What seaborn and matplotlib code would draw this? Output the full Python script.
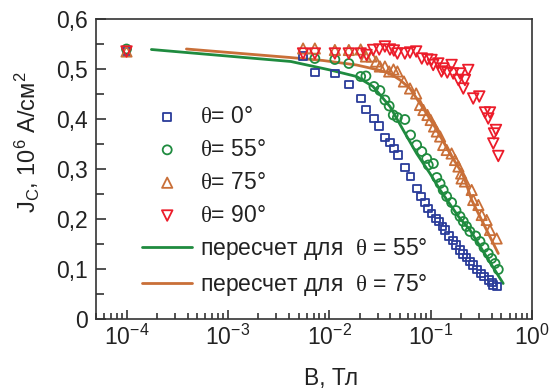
import numpy as np
import pandas as pd
import matplotlib
matplotlib.use("Agg")
import matplotlib.pyplot as plt
import seaborn as sns
from matplotlib.ticker import LogLocator, NullFormatter, FixedLocator, MultipleLocator

# ---------------- data ----------------
b0 = [1e-4, 0.00552, 0.00721, 0.01136, 0.0156, 0.0204, 0.0231, 0.0276, 0.0311, 0.0354, 0.0397,
      0.0434, 0.0472, 0.0557, 0.0634, 0.0728, 0.0802, 0.0879, 0.0948, 0.102, 0.113, 0.121,
      0.131, 0.138, 0.153, 0.165, 0.178, 0.195, 0.210, 0.226, 0.244, 0.263, 0.284, 0.311,
      0.338, 0.379, 0.400, 0.415, 0.455]
j0 = [0.535, 0.526, 0.493, 0.491, 0.469, 0.441, 0.419, 0.401, 0.386, 0.363, 0.353,
      0.341, 0.328, 0.303, 0.285, 0.261, 0.245, 0.233, 0.221, 0.211, 0.201, 0.195,
      0.185, 0.178, 0.166, 0.157, 0.148, 0.138, 0.130, 0.123, 0.115, 0.108, 0.099, 0.091,
      0.085, 0.078, 0.073, 0.068, 0.065]

b55 = [1e-4, 0.00721, 0.01136, 0.0156, 0.0204, 0.023, 0.0276, 0.0316, 0.0354, 0.039, 0.0428,
       0.047, 0.0557, 0.0634, 0.0728, 0.0818, 0.0915, 0.0948, 0.1064, 0.115, 0.124, 0.133,
       0.144, 0.161, 0.178, 0.195, 0.210, 0.226, 0.244, 0.278, 0.307, 0.336, 0.370, 0.400,
       0.432, 0.465]
j55 = [0.540, 0.521, 0.519, 0.511, 0.485, 0.486, 0.465, 0.457, 0.438, 0.426, 0.408,
       0.403, 0.399, 0.368, 0.348, 0.335, 0.321, 0.308, 0.311, 0.283, 0.271, 0.258,
       0.245, 0.233, 0.217, 0.205, 0.195, 0.185, 0.175, 0.166, 0.155, 0.143, 0.131, 0.121,
       0.111, 0.099]

b75 = [1e-4, 0.00552, 0.00721, 0.01136, 0.0156, 0.0204, 0.023, 0.0262, 0.029, 0.0316, 0.0354,
       0.039, 0.043, 0.047, 0.0545, 0.0626, 0.072, 0.0786, 0.0848, 0.093, 0.100, 0.108,
       0.115, 0.124, 0.133, 0.144, 0.161, 0.174, 0.188, 0.200, 0.202, 0.218, 0.254, 0.263,
       0.296, 0.319, 0.357, 0.385, 0.448]
j75 = [0.535, 0.541, 0.541, 0.538, 0.538, 0.539, 0.525, 0.525, 0.515, 0.505, 0.505,
       0.495, 0.499, 0.495, 0.475, 0.461, 0.451, 0.428, 0.418, 0.408, 0.398, 0.385,
       0.375, 0.365, 0.348, 0.338, 0.331, 0.318, 0.305, 0.291, 0.281, 0.275, 0.258, 0.238,
       0.228, 0.208, 0.198, 0.178, 0.161]

b90 = [1e-4, 0.00552, 0.00721, 0.01136, 0.0156, 0.0204, 0.0233, 0.0271, 0.0311, 0.0354, 0.0397,
       0.0434, 0.047, 0.0557, 0.0626, 0.072, 0.0818, 0.093, 0.102, 0.106, 0.119, 0.128,
       0.133, 0.146, 0.161, 0.167, 0.188, 0.195, 0.210, 0.218, 0.235, 0.263, 0.302, 0.344,
       0.385, 0.370, 0.441, 0.422, 0.415, 0.465]
j90 = [0.535, 0.531, 0.531, 0.531, 0.531, 0.531, 0.528, 0.538, 0.539, 0.545, 0.539,
       0.537, 0.531, 0.531, 0.533, 0.535, 0.521, 0.519, 0.518, 0.508, 0.511, 0.495,
       0.501, 0.493, 0.508, 0.491, 0.478, 0.491, 0.461, 0.478, 0.498, 0.441, 0.445, 0.413,
       0.413, 0.401, 0.378, 0.371, 0.351, 0.326]

fit55_b = [1.76e-4, 0.00418, 0.0102, 0.0186, 0.027, 0.0397, 0.0536, 0.0728, 0.0986, 0.124,
           0.188, 0.244, 0.52]
fit55_j = [0.539, 0.515, 0.498, 0.485, 0.465, 0.425, 0.378, 0.331, 0.291, 0.258,
           0.205, 0.178, 0.071]

fit75_b = [3.9e-4, 0.0041, 0.0087, 0.0186, 0.0293, 0.0397, 0.050, 0.0626, 0.0848, 0.115,
           0.155, 0.21, 0.254, 0.465]
fit75_j = [0.540, 0.523, 0.517, 0.508, 0.499, 0.491, 0.478, 0.461, 0.421, 0.378,
           0.331, 0.288, 0.238, 0.131]

labels = [r"$\mathsf{\theta}$= 0°", r"$\mathsf{\theta}$= 55°",
          r"$\mathsf{\theta}$= 75°", r"$\mathsf{\theta}$= 90°",
          r"пересчет для  $\mathsf{\theta}$ = 55°", r"пересчет для  $\mathsf{\theta}$ = 75°"]
ytick_vals = [0, 0.1, 0.2, 0.3, 0.4, 0.5, 0.6]
ytick_labels = ["0", "0,1", "0,2", "0,3", "0,4", "0,5", "0,6"]
xtick_vals = [1e-4, 1e-3, 1e-2, 1e-1, 1e0]
xtick_labels = [r"10$^{-4}$", r"10$^{-3}$", r"10$^{-2}$", r"10$^{-1}$", r"10$^{0}$"]

# ---------------- style ----------------
sns.set_style("ticks")
plt.rcParams["font.family"] = ["Liberation Sans", "DejaVu Sans"]
plt.rcParams["mathtext.fontset"] = "custom"
plt.rcParams["mathtext.rm"] = "Liberation Sans"
plt.rcParams["mathtext.it"] = "Liberation Sans:italic"
plt.rcParams["mathtext.sf"] = "Liberation Serif"

FS = 16.5
c_blue = "#2a3c9a"
c_green = "#1f8b3f"
c_orange = "#c96f38"
c_red = "#ec1c2a"

fig = plt.figure(figsize=(5.51, 3.90), dpi=100)
ax = fig.add_axes([96 / 551, 1 - 319 / 390, 436 / 551, 300 / 390])

sns.lineplot(x=fit55_b, y=fit55_j, color=c_green, lw=2.0, ax=ax, sort=False, errorbar=None)
sns.lineplot(x=fit75_b, y=fit75_j, color=c_orange, lw=2.0, ax=ax, sort=False, errorbar=None)
lines = list(ax.get_lines())

series = [(b0, j0, "s", c_blue, 32), (b55, j55, "o", c_green, 42),
          (b75, j75, "^", c_orange, 55), (b90, j90, "v", c_red, 58)]
n_before = len(ax.collections)
for bx, jy, mk, col, sz in series:
    sns.scatterplot(x=bx, y=jy, marker=mk, s=sz, facecolor="none", edgecolor=col,
                    linewidth=1.3, ax=ax, zorder=3)
colls = list(ax.collections[n_before:])

ax.set_xscale("log")
ax.set_xlim(5e-5, 1.0)
ax.set_ylim(0, 0.6)

ax.xaxis.set_major_locator(FixedLocator(xtick_vals))
ax.set_xticklabels(xtick_labels)
ax.xaxis.set_minor_locator(LogLocator(base=10, subs=np.arange(2, 10)))
ax.xaxis.set_minor_formatter(NullFormatter())
ax.set_yticks(ytick_vals)
ax.set_yticklabels(ytick_labels)
ax.yaxis.set_minor_locator(MultipleLocator(0.05))

ax.tick_params(axis="both", which="both", direction="in", colors="#222222",
               labelcolor="#222222", labelsize=FS, width=1.1)
ax.tick_params(axis="x", which="major", length=6.5, pad=4)
ax.tick_params(axis="x", which="minor", length=4)
ax.tick_params(axis="y", which="major", length=7.2, pad=6)
ax.tick_params(axis="y", which="minor", length=5.4)
ax.tick_params(right=False, top=False, which="both")

for sp in ax.spines.values():
    sp.set_visible(True)
    sp.set_color("#333333")
    sp.set_linewidth(1.2)

ax.set_xlabel("B, Тл", fontsize=FS, color="#222222")
ax.set_ylabel(r"J$_\mathrm{C}$, 10$^6$ A/см$^2$", fontsize=FS + 0.5, color="#222222")
ax.xaxis.set_label_coords(0.539, -0.16)
ax.yaxis.set_label_coords(-0.125, 0.59)

handles = colls[:4] + lines[:2]
leg = ax.legend(handles, labels, loc="upper left",
                bbox_to_anchor=(142 / 551, 1 - 105 / 390), bbox_transform=fig.transFigure,
                frameon=False, borderpad=0, borderaxespad=0, handlelength=2.2,
                handletextpad=0.35, labelspacing=0.43, fontsize=FS, scatterpoints=1)
for t in leg.get_texts():
    t.set_color("#222222")

fig.savefig("out.png", dpi=100)
